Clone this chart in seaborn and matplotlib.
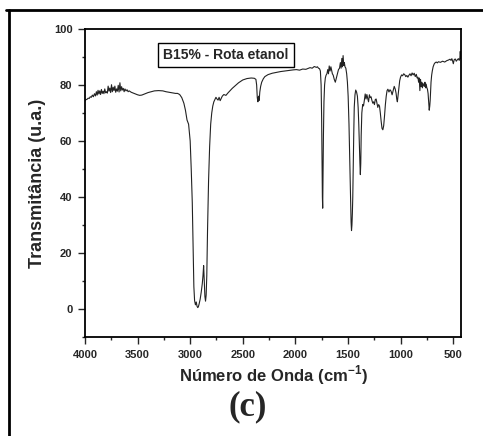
import matplotlib
matplotlib.use("Agg")
import matplotlib.pyplot as plt
import seaborn as sns
import pandas as pd
from matplotlib.lines import Line2D
from matplotlib.ticker import MultipleLocator

# ---- data ----
wavenumber = [
    4000, 3990, 3980, 3970, 3960, 3950, 3940, 3930, 3920, 3910, 3900, 3892, 3884, 3876, 3868,
    3860, 3852, 3844, 3836, 3828, 3820, 3812, 3804, 3796, 3788, 3780, 3772, 3764, 3756, 3748,
    3740, 3732, 3724, 3716, 3708, 3700, 3692, 3684, 3676, 3668, 3660, 3652, 3644, 3636, 3628,
    3620, 3610, 3600, 3590, 3580, 3560, 3540, 3520, 3500, 3480, 3460, 3440, 3420, 3400, 3370,
    3340, 3300, 3260, 3230, 3200, 3170, 3140, 3120, 3100, 3080, 3060, 3045, 3030, 3015, 3000,
    2990, 2980, 2972, 2965, 2958, 2950, 2942, 2935, 2928, 2922, 2915, 2905, 2895, 2885, 2878,
    2872, 2866, 2860, 2854, 2848, 2842, 2835, 2825, 2815, 2805, 2795, 2785, 2775, 2765, 2755,
    2745, 2735, 2725, 2715, 2705, 2695, 2680, 2660, 2640, 2620, 2600, 2570, 2540, 2500, 2460,
    2420, 2390, 2375, 2368, 2362, 2356, 2350, 2344, 2338, 2330, 2320, 2305, 2290, 2260, 2220,
    2180, 2140, 2100, 2060, 2020, 1990, 1960, 1930, 1900, 1880, 1860, 1840, 1820, 1800, 1790,
    1780, 1770, 1762, 1755, 1750, 1746, 1743, 1740, 1737, 1733, 1728, 1722, 1715, 1708, 1700,
    1692, 1685, 1678, 1670, 1662, 1655, 1648, 1640, 1630, 1620, 1610, 1600, 1590, 1580, 1572,
    1565, 1558, 1552, 1546, 1540, 1534, 1528, 1520, 1512, 1505, 1498, 1490, 1482, 1475, 1470,
    1466, 1462, 1458, 1454, 1450, 1445, 1440, 1433, 1426, 1418, 1410, 1403, 1397, 1391, 1386,
    1382, 1378, 1374, 1368, 1360, 1352, 1344, 1336, 1328, 1320, 1312, 1304, 1296, 1288, 1280,
    1272, 1264, 1256, 1248, 1240, 1232, 1224, 1216, 1208, 1200, 1192, 1184, 1176, 1168, 1160,
    1152, 1144, 1136, 1128, 1120, 1110, 1100, 1090, 1080, 1070, 1060, 1050, 1042, 1036, 1030,
    1024, 1016, 1008, 1000, 990, 980, 970, 960, 950, 940, 930, 920, 910, 900, 890,
    880, 870, 860, 850, 842, 835, 828, 822, 816, 810, 804, 798, 792, 786, 780,
    774, 768, 762, 756, 750, 744, 738, 732, 727, 722, 718, 714, 710, 704, 698,
    690, 680, 670, 660, 650, 640, 620, 600, 580, 560, 545, 530, 520, 512, 505,
    498, 490, 480, 470, 460, 450, 442, 436, 432, 428, 424, 420,
]
transmittance = [
    74.3, 74.8, 74.9, 75.3, 75.2, 75.8, 75.6, 76.4, 75.8, 76.9, 76.1, 77.6, 76.4, 78.1, 76.8,
    77.9, 76.6, 78.4, 77.0, 77.8, 76.9, 78.6, 77.2, 77.6, 77.1, 79.6, 77.8, 78.9, 77.3, 80.1,
    77.6, 79.2, 78.0, 79.6, 77.4, 78.6, 77.8, 79.9, 77.5, 80.8, 77.9, 79.4, 78.2, 78.8, 77.6,
    78.6, 77.9, 78.3, 77.6, 77.9, 77.4, 77.1, 76.8, 76.5, 76.3, 76.4, 76.7, 77.0, 77.3, 77.6,
    77.9, 78.0, 77.9, 77.6, 77.4, 77.2, 77.0, 77.0, 76.6, 75.5, 73.5, 71.0, 67.5, 66.0, 60.0,
    50.0, 38.0, 22.0, 8.0, 3.0, 1.5, 2.5, 1.0, 0.5, 0.8, 1.8, 3.5, 6.0, 9.0, 12.0,
    15.5, 10.0, 4.5, 2.8, 5.0, 12.0, 28.0, 46.0, 58.0, 66.0, 70.0, 72.5, 74.0, 74.8, 75.6,
    75.0, 74.6, 75.6, 74.4, 75.2, 76.0, 76.6, 76.3, 77.2, 78.0, 78.8, 79.8, 80.8, 81.8, 82.3,
    82.5, 82.4, 82.0, 80.0, 75.5, 74.0, 76.0, 74.5, 77.5, 79.5, 81.0, 82.2, 83.0, 83.7, 84.2,
    84.5, 84.8, 85.0, 85.2, 85.4, 85.5, 85.3, 85.7, 85.6, 85.9, 86.2, 86.0, 86.6, 86.3, 86.5,
    86.0, 85.8, 85.0, 80.0, 68.0, 52.0, 40.0, 36.0, 48.0, 62.0, 74.0, 80.0, 82.5, 83.5, 84.0,
    85.5, 84.0, 86.8, 85.0, 86.5, 85.2, 84.0, 83.5, 82.0, 81.0, 82.5, 84.0, 85.5, 86.0, 88.0,
    86.0, 89.5, 86.5, 90.5, 87.0, 88.0, 86.5, 86.0, 84.0, 81.0, 76.0, 66.0, 52.0, 38.0, 31.0,
    28.0, 30.0, 34.0, 40.0, 50.0, 62.0, 72.0, 76.5, 78.2, 77.5, 76.0, 72.0, 66.0, 58.0, 52.0,
    48.0, 52.0, 62.0, 70.0, 73.0, 72.5, 74.5, 76.8, 75.0, 76.6, 75.2, 74.0, 76.5, 75.5, 75.8,
    74.5, 73.5, 74.0, 73.0, 74.8, 75.0, 73.5, 72.0, 73.0, 72.5, 70.0, 67.0, 64.5, 64.0, 65.5,
    69.0, 73.0, 76.0, 78.0, 78.5, 77.5, 78.3, 77.8, 76.5, 78.0, 79.5, 78.5, 77.0, 75.0, 74.0,
    76.0, 79.0, 81.5, 82.8, 83.6, 83.3, 84.0, 83.7, 83.0, 83.4, 82.8, 83.5, 84.0, 83.3, 84.3,
    83.6, 84.2, 83.0, 83.8, 82.5, 82.8, 81.0, 82.5, 78.0, 82.0, 79.5, 81.0, 79.0, 80.5, 80.0,
    79.5, 81.0, 79.0, 80.3, 79.0, 78.5, 77.0, 74.0, 71.0, 72.5, 74.5, 78.0, 81.0, 83.5, 85.0,
    86.5, 87.5, 88.0, 88.2, 87.9, 88.3, 88.1, 88.5, 88.2, 88.7, 88.9, 89.2, 88.8, 89.4, 88.6,
    87.6, 89.0, 89.3, 88.5, 89.0, 89.4, 88.8, 89.6, 92.0, 90.0, 89.2, 89.5,
]

x_ticks = [4000, 3500, 3000, 2500, 2000, 1500, 1000, 500]
y_ticks = [0, 20, 40, 60, 80, 100]
legend_label = "B15% - Rota etanol"
x_label = "Número de Onda (cm$^{\\mathregular{-1}}$)"
y_label = "Transmitância (u.a.)"
panel_label = "(c)"

df = pd.DataFrame({"wavenumber": wavenumber, "transmittance": transmittance})

sns.set_style("ticks")
plt.rcParams["font.family"] = ["Liberation Sans", "DejaVu Sans"]

fig = plt.figure(figsize=(4.83, 4.36), dpi=100)
ax = fig.add_axes([85 / 483, 1 - 337 / 436, (461 - 85) / 483, (337 - 29) / 436])

sns.lineplot(data=df, x="wavenumber", y="transmittance", ax=ax, color="#222222",
             linewidth=0.8, sort=False, estimator=None)

ax.set_xlim(4000, 425)
ax.set_ylim(-10, 100)
ax.set_xticks(x_ticks)
ax.set_yticks(y_ticks)
ax.xaxis.set_minor_locator(MultipleLocator(250))
ax.yaxis.set_minor_locator(MultipleLocator(10))
ax.tick_params(which="major", direction="out", length=5, width=1.0, labelsize=8, pad=4)
ax.tick_params(which="minor", direction="out", length=2.5, width=1.0)
for lab in ax.get_xticklabels() + ax.get_yticklabels():
    lab.set_fontweight("bold")
for sp in ax.spines.values():
    sp.set_linewidth(1.3)
    sp.set_color("black")

ax.set_xlabel(x_label, fontsize=12, fontweight="bold", labelpad=3)
ax.set_ylabel(y_label, fontsize=13, fontweight="bold", labelpad=6)

ax.text(0.375, 0.916, legend_label, transform=ax.transAxes, ha="center", va="center",
        fontsize=10, fontweight="bold",
        bbox=dict(boxstyle="square,pad=0.35", facecolor="white", edgecolor="black", linewidth=1.0))

fig.text(248 / 483, 1 - 407 / 436, panel_label, ha="center", va="center",
         fontsize=25, fontweight="bold", family=["Liberation Serif", "DejaVu Serif"])

# outer frame lines (top and left)
fig.add_artist(Line2D([6 / 483, 1.0], [1 - 10 / 436, 1 - 10 / 436], color="black", linewidth=2.0,
                      transform=fig.transFigure))
fig.add_artist(Line2D([9 / 483, 9 / 483], [1 - 10 / 436, 0.0], color="black", linewidth=2.0,
                      transform=fig.transFigure))

fig.savefig("out.png", dpi=100)
